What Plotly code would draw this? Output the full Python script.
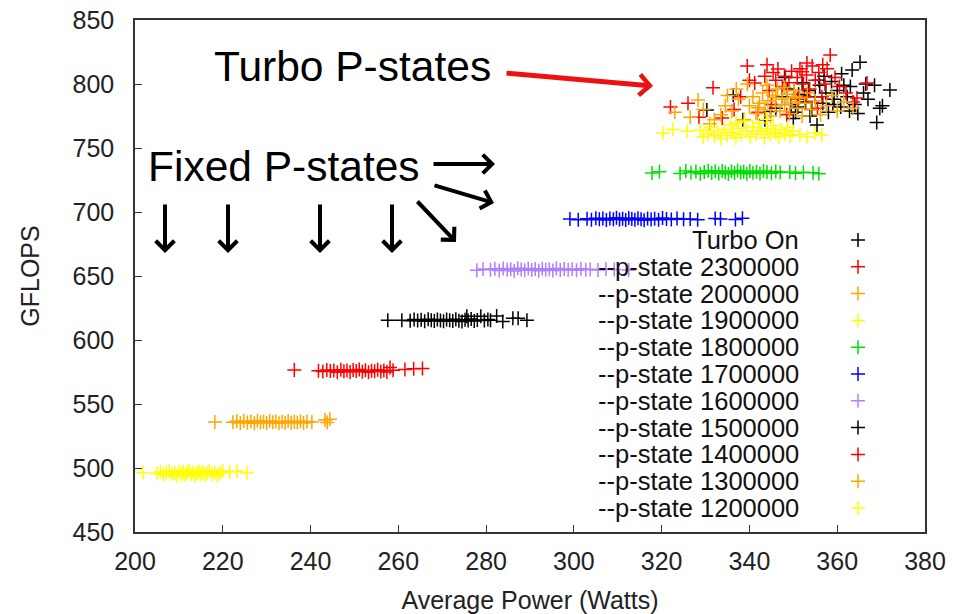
import plotly.graph_objects as go

# ---------------- data ----------------
TURBO_ON = [(330.3,779.7),(336.3,791.4),(338.5,772.0),(343.5,772.0),(344.8,778.5),(346.0,781.0),(347.5,790.0),
            (348.6,796.0),(349.5,784.0),(350.5,778.0),(351.2,792.0),(352.0,801.0),(352.8,786.0),(353.5,795.0),
            (354.2,780.0),(355.0,790.0),(355.4,768.0),(356.0,799.0),(356.7,785.0),(357.4,793.0),(358.0,778.0),
            (358.7,802.0),(359.3,788.0),(360.0,795.0),(360.8,782.0),(361.5,799.0),(362.3,790.0),(363.4,811.0),
            (364.0,784.0),(364.7,777.0),(365.2,817.0),(366.0,793.0),(367.0,788.0),(368.5,799.0),(369.0,770.0),
            (369.7,781.0),(370.3,783.0),(372.0,795.3),(357.0,806.0),(361.0,808.0),(353.8,775.0),(350.0,773.0),
            (348.0,805.0),(363.0,798.0),(359.0,784.0),(355.8,803.0),(352.5,790.5),(366.5,800.0),(362.8,779.0),
            (351.0,782.0)]
PSTATE_2300000 = [(322.0,782.0),(326.0,785.0),(328.5,774.0),(331.7,797.0),(333.8,773.4),(336.5,780.0),(338.0,790.0),
                  (339.5,814.0),(340.0,803.0),(341.2,800.8),(343.5,806.0),(344.5,795.0),(345.4,809.0),(346.0,803.0),
                  (346.5,811.7),(347.5,798.0),(348.2,806.0),(349.0,801.0),(349.6,810.0),(350.2,795.0),(350.9,805.0),
                  (351.5,812.0),(352.0,809.6),(352.3,800.0),(353.0,807.0),(353.1,816.4),(353.7,796.0),(354.3,814.0),
                  (355.0,803.0),(355.8,809.0),(356.5,790.0),(356.7,815.0),(357.2,800.0),(357.7,812.0),(358.4,822.7),
                  (359.5,805.0),(360.5,798.0),(362.0,793.0),(363.6,786.0),(364.5,789.0),(366.8,800.8),(345.0,784.0),
                  (342.0,778.0),(348.5,776.0),(351.0,788.0),(355.5,781.0),(353.0,790.0),(344.0,815.0)]
PSTATE_2000000 = [(323.0,778.0),(326.5,774.0),(328.3,787.5),(329.5,780.0),(331.0,769.0),(332.0,772.0),(333.5,776.0),
                  (334.5,783.0),(335.0,791.0),(336.0,779.0),(337.0,796.0),(337.5,788.0),(338.8,772.0),(339.5,800.0),
                  (340.0,783.0),(340.8,790.0),(341.5,777.0),(342.3,785.0),(343.0,793.0),(343.6,780.0),(344.2,787.0),
                  (344.8,775.0),(345.3,791.0),(345.9,783.0),(346.4,796.0),(347.0,779.0),(347.5,788.0),(348.0,784.0),
                  (348.6,792.0),(349.1,777.0),(349.7,786.0),(350.2,795.0),(350.8,781.0),(351.4,789.0),(352.0,775.0),
                  (352.6,785.0),(353.2,793.0),(354.0,780.0),(355.0,787.0),(356.2,776.0),(357.5,783.0),(358.8,791.0),
                  (360.0,779.0),(361.5,786.0),(363.6,781.0),(346.0,789.5),(342.0,781.5),(348.0,797.5),(344.0,799.0),
                  (350.5,790.0)]
PSTATE_1900000 = [(320.3,761.7),(322.5,764.5),(325.8,763.0),(328.8,764.0),(329.5,758.5),(330.5,761.0),(331.2,766.0),
                  (332.0,759.5),(332.8,762.5),(333.5,757.5),(334.2,764.5),(334.9,760.0),(335.6,768.0),(336.2,762.0),
                  (336.9,758.0),(337.5,765.5),(338.2,760.5),(338.9,771.0),(339.5,763.5),(340.2,758.5),(340.8,766.5),
                  (341.5,761.0),(342.1,769.5),(342.8,763.0),(343.4,758.0),(344.1,765.0),(344.7,760.5),(345.4,767.5),
                  (346.0,762.0),(346.7,758.5),(347.3,764.5),(348.0,761.0),(348.7,766.0),(349.3,759.5),(349.9,763.0),
                  (351.5,760.5),(353.1,758.6),(354.9,761.7),(356.5,760.2),(344.0,772.5),(337.0,770.0)]
PSTATE_1800000 = [(317.8,730.5),(319.5,731.5),(324.2,730.0),(325.5,732.0),(326.7,730.8),(327.8,731.6),(328.8,729.8),
                  (329.7,731.2),(330.6,732.3),(331.4,730.4),(332.2,731.8),(333.0,730.0),(333.8,732.0),(334.5,731.0),
                  (335.2,729.6),(335.9,731.9),(336.6,730.5),(337.3,732.4),(338.0,730.9),(338.7,731.5),(339.4,729.9),
                  (340.1,732.1),(340.8,730.6),(341.6,731.4),(342.4,730.1),(343.2,732.0),(344.0,731.2),(345.0,730.3),
                  (346.0,731.7),(347.0,730.8),(349.2,731.3),(350.5,730.2),(352.3,731.0),(354.5,730.6),(355.8,729.9)]
PSTATE_1700000 = [(299.1,694.5),(301.0,694.0),(303.0,694.8),(304.0,693.9),(305.0,695.2),(305.8,694.3),(306.6,694.9),
                  (307.4,693.7),(308.2,695.0),(309.0,694.4),(309.7,695.6),(310.4,694.1),(311.1,694.8),(311.8,693.8),
                  (312.5,695.3),(313.2,694.6),(313.9,694.0),(314.6,695.1),(315.3,694.4),(316.0,693.6),(316.8,695.0),
                  (317.6,694.2),(318.4,694.8),(319.3,693.9),(320.2,695.4),(321.1,694.5),(322.2,694.1),(323.5,694.9),
                  (325.0,694.3),(326.5,694.6),(328.2,694.0),(332.2,695.0),(333.4,694.5),(336.8,694.2),(338.4,695.1)]
PSTATE_1600000 = [(277.9,654.5),(279.3,655.5),(281.0,654.8),(282.0,655.6),(283.0,654.2),(283.9,655.9),(284.8,654.9),
                  (285.6,655.3),(286.4,654.0),(287.2,656.0),(288.0,655.1),(288.8,654.5),(289.6,655.8),(290.4,654.7),
                  (291.2,655.4),(292.0,654.1),(292.8,655.7),(293.6,654.8),(294.4,655.2),(295.2,654.3),(296.0,655.9),
                  (296.9,654.6),(297.8,655.5),(298.7,654.9),(299.6,655.3),(300.6,654.4),(301.6,655.6),(302.7,654.8),
                  (303.7,655.2),(305.5,654.7),(307.3,655.4),(309.2,655.0),(312.5,654.6)]
PSTATE_1500000 = [(257.6,615.5),(260.8,615.5),(262.7,615.0),(263.6,616.0),(264.4,615.2),(265.2,615.8),(266.0,614.7),
                  (266.8,616.3),(267.5,615.4),(268.2,614.9),(268.9,616.1),(269.6,615.3),(270.3,614.6),(271.0,616.0),
                  (271.7,615.5),(272.4,614.8),(273.1,616.2),(273.8,615.1),(274.5,614.5),(275.2,615.9),(275.6,618.5),
                  (275.9,615.3),(276.6,616.4),(277.3,614.9),(278.0,615.6),(278.8,618.5),(279.6,615.2),(280.4,616.0),
                  (281.0,615.4),(282.4,618.7),(283.8,614.5),(286.1,617.0),(287.3,617.0),(289.3,615.5)]
PSTATE_1400000 = [(236.3,576.5),(241.8,576.0),(242.8,575.3),(243.7,576.6),(244.5,575.7),(245.3,576.2),(246.1,574.9),
                  (246.9,576.8),(247.6,575.5),(248.3,576.1),(249.0,575.0),(249.7,576.5),(250.4,575.8),(251.1,576.9),
                  (251.8,575.2),(252.5,576.3),(253.2,574.8),(253.9,576.0),(254.6,575.6),(255.3,576.7),(256.0,575.4),
                  (256.7,576.1),(257.4,575.0),(258.1,578.5),(258.8,576.4),(261.5,577.0),(263.5,577.5),(265.5,577.8)]
PSTATE_1300000 = [(218.2,536.0),(222.3,535.8),(223.2,536.5),(224.0,535.2),(224.8,536.8),(225.6,535.6),(226.4,536.3),
                  (227.2,535.0),(227.9,536.9),(228.6,535.5),(229.3,536.2),(230.0,535.1),(230.7,536.7),(231.4,535.7),
                  (232.1,536.4),(232.8,534.9),(233.5,536.1),(234.2,535.4),(234.9,536.8),(235.6,535.3),(236.3,536.0),
                  (237.0,535.6),(237.7,536.5),(238.4,535.2),(239.2,536.3),(240.3,535.9),(243.3,537.5),(244.4,538.0),
                  (243.8,535.5)]
PSTATE_1200000 = [(201.8,496.5),(205.0,495.8),(205.8,496.9),(206.5,494.8),(207.1,496.2),(207.8,497.4),(208.4,495.3),
                  (209.0,496.0),(209.5,493.9),(210.0,497.0),(210.5,495.5),(211.0,496.8),(211.4,494.6),(211.9,496.3),
                  (212.3,497.8),(212.8,495.1),(213.2,496.6),(213.7,494.2),(214.1,496.0),(214.6,497.3),(215.0,495.4),
                  (215.5,496.7),(216.0,494.9),(216.5,495.9),(217.0,497.6),(217.6,495.2),(218.2,496.4),(218.8,494.5),
                  (219.4,496.1),(220.0,497.9),(221.6,496.8),(223.2,497.5),(225.5,496.1)]

SERIES_NAMES = ["Turbo On", "--p-state 2300000", "--p-state 2000000", "--p-state 1900000",
                "--p-state 1800000", "--p-state 1700000", "--p-state 1600000", "--p-state 1500000",
                "--p-state 1400000", "--p-state 1300000", "--p-state 1200000"]
SERIES_DATA = [TURBO_ON, PSTATE_2300000, PSTATE_2000000, PSTATE_1900000, PSTATE_1800000, PSTATE_1700000,
               PSTATE_1600000, PSTATE_1500000, PSTATE_1400000, PSTATE_1300000, PSTATE_1200000]
SERIES_COLORS = ["#000000", "#ff0000", "#ffa500", "#ffff00", "#00e000", "#0000ff",
                 "#b07fff", "#000000", "#ff0000", "#ffa500", "#ffff00"]

X_TICKS = list(range(200, 381, 20))
Y_TICKS = list(range(450, 851, 50))

# ---------------- layout constants (pixels) ----------------
W, H = 954, 614
L, R, T, B = 135, 925, 20, 532
FONT = "Liberation Sans, Arial, sans-serif"


def px(xp):
    return (xp - L) / (R - L)


def py(yp):
    return (B - yp) / (B - T)


fig = go.Figure()

for name, data, col in zip(SERIES_NAMES, SERIES_DATA, SERIES_COLORS):
    fig.add_trace(go.Scatter(
        x=[p[0] for p in data], y=[p[1] for p in data], mode="markers", name=name,
        showlegend=False,
        marker=dict(symbol="cross-thin", size=10, color=col, line=dict(color=col, width=1.5)),
    ))

# custom gnuplot-style key: text right aligned, symbol on the right
row_y = [py(240 + 26.8 * k) for k in range(len(SERIES_NAMES))]
fig.add_trace(go.Scatter(
    x=[px(858)] * len(SERIES_NAMES), y=row_y, xaxis="x2", yaxis="y2", mode="markers",
    showlegend=False, hoverinfo="skip",
    marker=dict(symbol="cross-thin", size=10, color=SERIES_COLORS,
                line=dict(color=SERIES_COLORS, width=1.5)),
))

annotations = []
for name, yy in zip(SERIES_NAMES, row_y):
    annotations.append(dict(text=name, xref="paper", yref="paper", x=px(801), y=yy,
                            xanchor="right", yanchor="middle", showarrow=False,
                            font=dict(family=FONT, size=25.5, color="#111")))

annotations.append(dict(text="Turbo P-states", xref="paper", yref="paper", x=px(212), y=py(66),
                        xanchor="left", yanchor="middle", showarrow=False,
                        font=dict(family=FONT, size=42.5, color="#000")))
annotations.append(dict(text="Fixed P-states", xref="paper", yref="paper", x=px(146), y=py(166),
                        xanchor="left", yanchor="middle", showarrow=False,
                        font=dict(family=FONT, size=42.5, color="#000")))


def arrow(head, tail, color, width, size):
    return dict(text="", xref="paper", yref="paper", x=px(head[0]), y=py(head[1]),
                ax=tail[0] - head[0], ay=tail[1] - head[1], showarrow=True,
                arrowhead=4, arrowcolor=color, arrowwidth=width, arrowsize=size,
                standoff=0, startstandoff=0)


annotations.append(arrow((653, 86), (505, 73), "#ee1111", 5, 0.8))
annotations.append(arrow((495, 164), (432, 164), "#000", 4, 0.9))
annotations.append(arrow((494, 203), (433, 185), "#000", 4, 0.9))
annotations.append(arrow((456, 242), (416, 200), "#000", 4, 0.9))
for xd in (165, 228, 320, 392):
    annotations.append(arrow((xd, 253), (xd, 203), "#000", 4, 0.9))

axis_common = dict(showgrid=False, zeroline=False, showline=True, linecolor="#333", linewidth=1.5,
                   mirror=True, ticks="inside", ticklen=7, tickcolor="#333", tickwidth=1.2,
                   tickfont=dict(family=FONT, size=25, color="#222"), automargin=False)

fig.update_layout(
    width=W, height=H,
    margin=dict(l=L, r=W - R, t=T, b=H - B),
    paper_bgcolor="white", plot_bgcolor="white",
    showlegend=False,
    xaxis=dict(range=[200, 380], tickvals=X_TICKS, ticklabelstandoff=6,
               title=dict(text="Average Power (Watts)", standoff=18,
                          font=dict(family=FONT, size=25, color="#222")), **axis_common),
    yaxis=dict(range=[450, 850], tickvals=Y_TICKS, ticklabelstandoff=14,
               title=dict(text="GFLOPS", standoff=26,
                          font=dict(family=FONT, size=25, color="#222")), **axis_common),
    xaxis2=dict(overlaying="x", range=[0, 1], visible=False),
    yaxis2=dict(overlaying="y", range=[0, 1], visible=False),
    annotations=annotations,
)

fig.write_html("out.html", config={"displayModeBar": False},
               post_script="document.body.style.margin='0px';document.body.style.overflow='hidden';")
